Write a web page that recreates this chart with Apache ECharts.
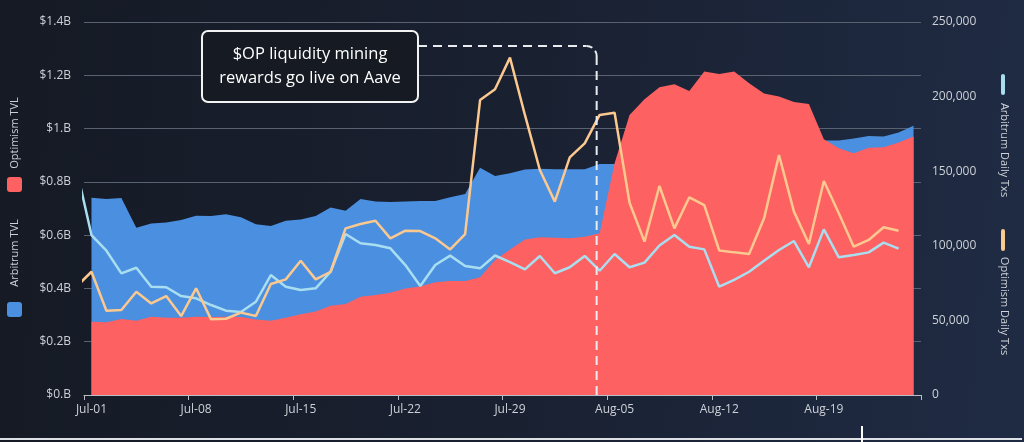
<!DOCTYPE html>
<html>
<head>
<meta charset="utf-8">
<script src="https://cdn.jsdelivr.net/npm/echarts@6/dist/echarts.min.js"></script>
<style>
html,body{margin:0;padding:0;background:#161b25;}
#c{width:1024px;height:442px;}
</style>
</head>
<body>
<div id="c"></div>
<script>
// ---------- DATA ----------
const dates = ['Jul-01','Jul-02','Jul-03','Jul-04','Jul-05','Jul-06','Jul-07','Jul-08','Jul-09','Jul-10',
  'Jul-11','Jul-12','Jul-13','Jul-14','Jul-15','Jul-16','Jul-17','Jul-18','Jul-19','Jul-20',
  'Jul-21','Jul-22','Jul-23','Jul-24','Jul-25','Jul-26','Jul-27','Jul-28','Jul-29','Jul-30',
  'Jul-31','Aug-01','Aug-02','Aug-03','Aug-04','Aug-05','Aug-06','Aug-07','Aug-08','Aug-09',
  'Aug-10','Aug-11','Aug-12','Aug-13','Aug-14','Aug-15','Aug-16','Aug-17','Aug-18','Aug-19',
  'Aug-20','Aug-21','Aug-22','Aug-23','Aug-24','Aug-25'];

// TVL in billions USD
const arbitrumTVL = [0.740,0.736,0.739,0.628,0.644,0.647,0.657,0.673,0.672,0.678,
  0.667,0.641,0.634,0.654,0.659,0.672,0.704,0.692,0.736,0.726,
  0.724,0.726,0.728,0.728,0.742,0.754,0.853,0.822,0.832,0.846,
  0.849,0.847,0.847,0.847,0.867,0.867,0.875,0.880,0.885,0.890,
  0.895,0.900,0.905,0.910,0.920,0.925,0.930,0.940,0.945,0.955,
  0.955,0.963,0.972,0.970,0.985,1.011];
const optimismTVL = [0.275,0.273,0.285,0.279,0.294,0.290,0.290,0.294,0.293,0.294,
  0.293,0.283,0.279,0.290,0.303,0.313,0.335,0.342,0.369,0.375,
  0.384,0.400,0.407,0.423,0.428,0.428,0.442,0.507,0.546,0.584,
  0.592,0.590,0.588,0.594,0.607,0.870,1.051,1.110,1.155,1.166,
  1.141,1.214,1.205,1.214,1.170,1.132,1.120,1.100,1.092,0.960,
  0.926,0.907,0.928,0.930,0.948,0.970];

// Daily transactions (series plotted one day earlier than the TVL dates)
const txDayOffset = -1;
const arbitrumTxs = [151500,107200,96700,81500,85300,72600,72200,66300,64800,60300,
  56500,55600,62500,80400,72600,70400,71500,82600,107900,101700,
  100500,98300,87100,73100,87100,93400,86500,84900,93500,89100,
  84200,93200,81600,85600,93200,83300,94500,85600,88700,100200,
  107200,99400,97600,72600,77100,82600,90000,97200,103200,85600,
  111000,92300,93800,95600,102100,98100];
const optimismTxs = [72700,82600,56500,57000,69200,61400,66300,52900,71500,50700,
  51100,55200,52900,74400,77500,90000,77500,82600,111700,114600,
  116800,105000,110100,109900,105000,97600,107900,197700,204900,226100,
  187700,150800,129600,159300,168700,187700,189200,128900,102800,140100,
  111700,132500,127300,96900,95600,94500,118400,160800,122900,101200,
  143400,121800,99400,103900,112400,110100];

const leftTickLabels = ['$0.B','$0.2B','$0.4B','$0.6B','$0.8B','$1.B','$1.2B','$1.4B'];
const rightTickLabels = ['0','50,000','100,000','150,000','200,000','250,000'];

const eventIndex = 33.8; // $OP liquidity mining launch marker (position on day axis)
const eventText = '$OP liquidity mining\nrewards go live on Aave';

// ---------- CHART ----------
const FONT = 'Open Sans';
const LABEL = '#cdd1d7';
const chart = echarts.init(document.getElementById('c'), null, {renderer: 'canvas'});

const toPairs = arr => arr.map((v, j) => [j + txDayOffset, v]);

chart.setOption({
  animation: false,
  backgroundColor: {
    type: 'linear', x: 0, y: 0, x2: 1, y2: 0.2,
    colorStops: [
      {offset: 0, color: '#151a24'},
      {offset: 0.5, color: '#192030'},
      {offset: 1, color: '#1f2b43'}
    ]
  },
  grid: {left: 84, right: 103, top: 22, bottom: 47, containLabel: false},
  xAxis: [
    {
      type: 'category', data: dates, boundaryGap: true,
      axisLine: {show: true, lineStyle: {color: '#b9bec6', width: 1}},
      axisTick: {show: true, interval: 6, length: 5, lineStyle: {color: '#b9bec6'}},
      axisLabel: {interval: 6, color: LABEL, fontFamily: FONT, fontSize: 12, margin: 9},
      splitLine: {show: false}
    },
    {
      type: 'value', min: -0.5, max: dates.length - 0.5, show: false
    }
  ],
  yAxis: [
    {
      type: 'value', min: 0, max: 1.4, interval: 0.2, position: 'left',
      axisLine: {show: false}, axisTick: {show: false},
      axisLabel: {
        color: LABEL, fontFamily: FONT, fontSize: 12, margin: 13,
        formatter: v => leftTickLabels[Math.round(v / 0.2)]
      },
      splitLine: {show: true, lineStyle: {color: '#5a6272', width: 1}}
    },
    {
      type: 'value', min: 0, max: 250000, interval: 50000, position: 'right',
      axisLine: {show: false}, axisTick: {show: false},
      axisLabel: {
        color: LABEL, fontFamily: FONT, fontSize: 12, margin: 11,
        formatter: v => rightTickLabels[Math.round(v / 50000)]
      },
      splitLine: {show: false}
    }
  ],
  series: [
    {
      name: 'Arbitrum TVL', type: 'line', xAxisIndex: 0, yAxisIndex: 0,
      data: arbitrumTVL, symbol: 'none', lineStyle: {width: 0},
      areaStyle: {color: '#4a8fe0', opacity: 1}, z: 2
    },
    {
      name: 'Optimism TVL', type: 'line', xAxisIndex: 0, yAxisIndex: 0,
      data: optimismTVL, symbol: 'none', lineStyle: {width: 0},
      areaStyle: {color: '#fe6161', opacity: 1}, z: 3
    },
    {
      name: 'Arbitrum Daily Txs', type: 'line', xAxisIndex: 1, yAxisIndex: 1,
      data: toPairs(arbitrumTxs), symbol: 'none', clip: true,
      lineStyle: {width: 2.5, color: '#a9def0'}, z: 4
    },
    {
      name: 'Optimism Daily Txs', type: 'line', xAxisIndex: 1, yAxisIndex: 1,
      data: toPairs(optimismTxs), symbol: 'none', clip: true,
      lineStyle: {width: 2.5, color: '#fbc88f'}, z: 5
    }
  ]
});

// ---------- ANNOTATION + SIDE LEGENDS ----------
const ex = chart.convertToPixel({xAxisIndex: 1}, eventIndex);
const y0 = chart.convertToPixel({yAxisIndex: 0}, 0);
const boxX = 202, boxY = 31, boxW = 216, boxH = 71, lineY = 46, rad = 10;
const dashStyle = {stroke: '#e9ecef', lineWidth: 2, fill: null, lineDash: [9, 6]};
const legendFont = `11px "${FONT}"`;

chart.setOption({
  graphic: [
    {type: 'line', z: 100, silent: true,
      shape: {x1: boxX + boxW, y1: lineY, x2: ex - rad, y2: lineY}, style: dashStyle},
    {type: 'arc', z: 100, silent: true,
      shape: {cx: ex - rad, cy: lineY + rad, r: rad, startAngle: -Math.PI / 2, endAngle: 0, clockwise: true},
      style: {stroke: '#e9ecef', lineWidth: 2, fill: null, lineDash: [6, 4]}},
    {type: 'line', z: 100, silent: true,
      shape: {x1: ex, y1: lineY + rad, x2: ex, y2: y0}, style: dashStyle},
    {type: 'rect', z: 101, silent: true,
      shape: {x: boxX, y: boxY, width: boxW, height: boxH, r: 6},
      style: {fill: '#151a23', stroke: '#f2f2f2', lineWidth: 2}},
    {type: 'text', z: 102, silent: true,
      x: boxX + boxW / 2, y: boxY + boxH / 2,
      style: {text: eventText, fill: '#ffffff', font: `16.5px "${FONT}"`, lineHeight: 24,
        align: 'center', verticalAlign: 'middle'}},
    // left legend
    {type: 'rect', z: 100, shape: {x: 7, y: 177, width: 15, height: 15, r: 3}, style: {fill: '#fe6161'}},
    {type: 'text', z: 100, x: 14.5, y: 133, rotation: Math.PI / 2,
      style: {text: 'Optimism TVL', fill: LABEL, font: legendFont, align: 'center', verticalAlign: 'middle'}},
    {type: 'rect', z: 100, shape: {x: 7, y: 302, width: 15, height: 15, r: 3}, style: {fill: '#4a8fe0'}},
    {type: 'text', z: 100, x: 14.5, y: 253, rotation: Math.PI / 2,
      style: {text: 'Arbitrum TVL', fill: LABEL, font: legendFont, align: 'center', verticalAlign: 'middle'}},
    // right legend
    {type: 'rect', z: 100, shape: {x: 1001, y: 74, width: 4, height: 21, r: 2}, style: {fill: '#a9def0'}},
    {type: 'text', z: 100, x: 1004, y: 150, rotation: -Math.PI / 2,
      style: {text: 'Arbitrum Daily Txs', fill: LABEL, font: legendFont, align: 'center', verticalAlign: 'middle'}},
    {type: 'rect', z: 100, shape: {x: 1001, y: 229, width: 4, height: 22, r: 2}, style: {fill: '#fbc88f'}},
    {type: 'text', z: 100, x: 1004, y: 306, rotation: -Math.PI / 2,
      style: {text: 'Optimism Daily Txs', fill: LABEL, font: legendFont, align: 'center', verticalAlign: 'middle'}},
    // bottom frame line
    {type: 'line', z: 100, shape: {x1: 0, y1: 439, x2: 1022, y2: 439}, style: {stroke: '#dde1e6', lineWidth: 2}},
    {type: 'line', z: 100, shape: {x1: 862, y1: 426, x2: 862, y2: 442}, style: {stroke: '#ffffff', lineWidth: 2}}
  ]
});
</script>
</body>
</html>
